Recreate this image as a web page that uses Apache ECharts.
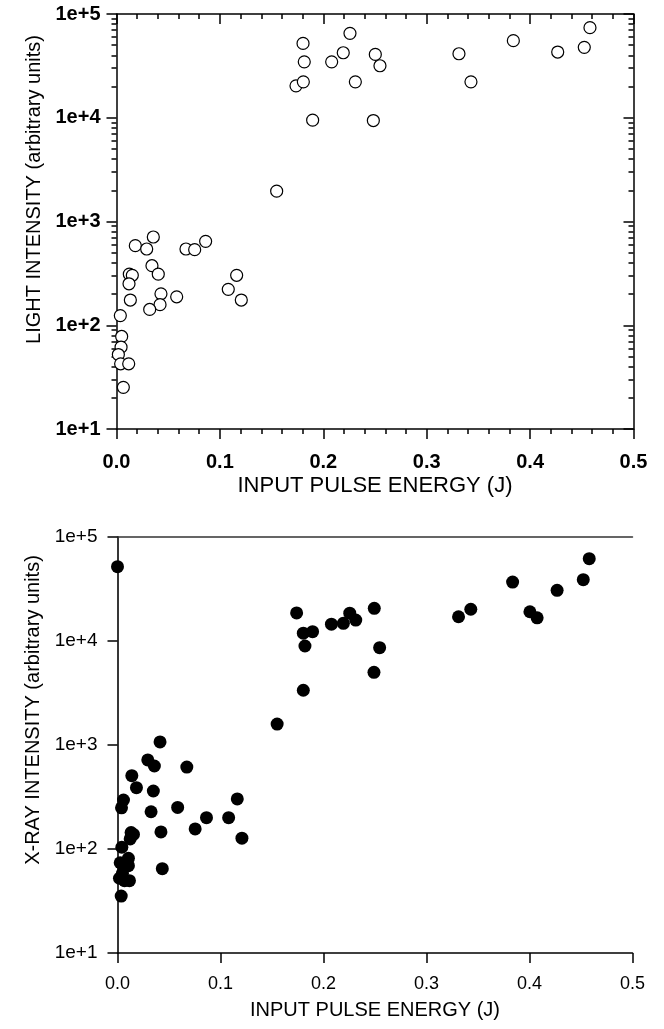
<!DOCTYPE html>
<html>
<head>
<meta charset="utf-8">
<script src="https://cdn.jsdelivr.net/npm/echarts@6/dist/echarts.min.js"></script>
<style>
html,body{margin:0;padding:0;background:#fff;}
#chart{width:664px;height:1029px;}
</style>
</head>
<body>
<div id="chart"></div>
<script>
// ---- Data ----
const lightX = [0.1804,0.1816,0.2258,0.2193,0.2081,0.1736,0.1807,0.2310,0.1897,0.2484,0.2503,0.2548,0.1549,
  0.3312,0.3428,0.3838,0.4267,0.4524,0.4579,
  0.0356,0.0182,0.0292,0.0672,0.0756,0.0862,0.0343,0.0404,0.0124,0.0153,0.0121,0.0430,0.0582,0.0134,0.0421,0.0321,
  0.1162,0.1081,0.1207,0.0037,0.0050,0.0044,0.0018,0.0040,0.0118,0.0066];
const lightY = [52100,34600,65100,42300,34600,20300,22200,22200,9480,9400,40800,31700,1960,
  41400,22200,55300,43000,47700,73800,
  709,585,543,543,535,644,375,311,311,303,251,201,188,175,158,142,
  303,222,175,124,78,61.5,52.2,42.5,42.5,25.2];

const xrayX = [0.0,0.0413,0.155,0.1804,0.1739,0.1804,0.1894,0.182,0.2077,0.2193,0.2255,0.2313,0.2493,0.2545,0.249,
  0.3311,0.343,0.3836,0.4004,0.4074,0.4268,0.4522,0.458,
  0.0294,0.0358,0.0673,0.0139,0.0184,0.0348,0.0058,0.0039,0.0326,0.0584,0.1163,0.0864,0.1079,0.0754,0.0422,0.1208,
  0.0132,0.0155,0.0123,0.0042,0.0026,0.0106,0.0106,0.0435,0.0019,0.0068,0.0116,0.0048,0.0036];
const xrayY = [51800,1070,1590,3360,18600,11900,12300,8950,14500,14800,18500,15900,20600,8620,5000,
  17100,20200,36900,19100,16700,30700,38900,61900,
  718,628,614,507,389,361,296,249,228,251,303,200,200,156,146,127,
  144,138,125,104,73.8,81.3,69.2,64.7,52.3,49.6,49.6,58.3,35.3];

const xTickLabels = ['0.0','0.1','0.2','0.3','0.4','0.5'];
const yMajor = [10,100,1000,10000,100000];
const yTickLabels = ['1e+1','1e+2','1e+3','1e+4','1e+5'];
const yMinor = [];
[10,100,1000,10000].forEach(d => { for (let k = 2; k <= 9; k++) yMinor.push(d * k); });

// ---- Chart ----
const FONT = 'Liberation Sans, Arial, sans-serif';
const chart = echarts.init(document.getElementById('chart'), null, {renderer: 'canvas'});
const line = (c, w) => ({show: true, lineStyle: {color: c || '#000', width: w || 1.5}});
const xLab = v => xTickLabels[Math.round(v * 10)];
const yLab = v => yTickLabels[yMajor.indexOf(v)] || '';

const option = {
  animation: false,
  backgroundColor: '#fff',
  grid: [
    {left: 116.5, top: 14, width: 517, height: 415},
    {left: 117.5, top: 537, width: 515, height: 416}
  ],
  xAxis: [
    {gridIndex: 0, type: 'value', position: 'bottom', min: 0, max: 0.5, interval: 0.1,
     axisLine: line(), splitLine: {show: false},
     axisTick: {show: true, length: 10, lineStyle: {color: '#000', width: 1.5}},
     minorTick: {show: true, splitNumber: 5, length: 5, lineStyle: {color: '#000', width: 1.5}},
     axisLabel: {formatter: xLab, margin: 23, fontFamily: FONT, fontSize: 20, fontWeight: 'bold', color: '#000'},
     name: 'INPUT PULSE ENERGY (J)', nameLocation: 'middle', nameGap: 46,
     nameTextStyle: {fontFamily: FONT, fontSize: 22, color: '#000'}},
    {gridIndex: 0, type: 'value', position: 'top', min: 0, max: 0.5, interval: 0.1,
     axisLine: line(), splitLine: {show: false},
     axisTick: {show: true, inside: true, length: 10, lineStyle: {color: '#000', width: 1.5}},
     minorTick: {show: true, splitNumber: 5, length: 5, lineStyle: {color: '#000', width: 1.5}},
     axisLabel: {show: false}},
    {gridIndex: 1, type: 'value', position: 'bottom', min: 0, max: 0.5, interval: 0.1,
     axisLine: line(), splitLine: {show: false},
     axisTick: {show: true, length: 10, lineStyle: {color: '#000', width: 1.5}},
     axisLabel: {formatter: xLab, margin: 22, fontFamily: FONT, fontSize: 18, color: '#000'},
     name: 'INPUT PULSE ENERGY (J)', nameLocation: 'middle', nameGap: 47,
     nameTextStyle: {fontFamily: FONT, fontSize: 20, color: '#000'}},
    {gridIndex: 1, type: 'value', position: 'top', min: 0, max: 0.5, interval: 0.1,
     axisLine: line('#333', 1.5), splitLine: {show: false}, axisTick: {show: false}, axisLabel: {show: false}}
  ],
  yAxis: [
    {gridIndex: 0, type: 'log', logBase: 10, position: 'left', min: 10, max: 100000,
     axisLine: line(), splitLine: {show: false},
     axisTick: {show: true, length: 10, customValues: yMajor, lineStyle: {color: '#000', width: 1.5}},
     axisLabel: {customValues: yMajor, formatter: yLab, margin: 16, fontFamily: FONT, fontSize: 20, fontWeight: 'bold', color: '#000'},
     name: 'LIGHT INTENSITY (arbitrary units)', nameLocation: 'middle', nameGap: 68,
     nameTextStyle: {fontFamily: FONT, fontSize: 20, color: '#000', padding: [0, 0, 0, 64]}},
    {gridIndex: 0, type: 'log', logBase: 10, position: 'left', min: 10, max: 100000,
     axisLine: {show: false}, splitLine: {show: false},
     axisTick: {show: true, length: 5, customValues: yMinor, lineStyle: {color: '#000', width: 1.5}},
     axisLabel: {show: false}},
    {gridIndex: 0, type: 'log', logBase: 10, position: 'right', min: 10, max: 100000,
     axisLine: line(), splitLine: {show: false},
     axisTick: {show: true, inside: true, length: 10, customValues: yMajor, lineStyle: {color: '#000', width: 1.5}},
     axisLabel: {show: false}},
    {gridIndex: 0, type: 'log', logBase: 10, position: 'right', min: 10, max: 100000,
     axisLine: {show: false}, splitLine: {show: false},
     axisTick: {show: true, inside: true, length: 5, customValues: yMinor, lineStyle: {color: '#000', width: 1.5}},
     axisLabel: {show: false}},
    {gridIndex: 1, type: 'log', logBase: 10, position: 'left', min: 10, max: 100000,
     axisLine: line(), splitLine: {show: false},
     axisTick: {show: true, length: 10, customValues: yMajor, lineStyle: {color: '#000', width: 1.5}},
     axisLabel: {customValues: yMajor, formatter: yLab, margin: 20, fontFamily: FONT, fontSize: 19, color: '#000'},
     name: 'X-RAY INTENSITY (arbitrary units)', nameLocation: 'middle', nameGap: 72,
     nameTextStyle: {fontFamily: FONT, fontSize: 20, color: '#000', padding: [0, 0, 0, 70]}},
    {gridIndex: 1, type: 'log', logBase: 10, position: 'right', min: 10, max: 100000,
     axisLine: line('#333', 1.5), splitLine: {show: false}, axisTick: {show: false}, axisLabel: {show: false}}
  ],
  series: [
    {type: 'scatter', xAxisIndex: 0, yAxisIndex: 0, symbol: 'circle', symbolSize: 12,
     itemStyle: {color: '#fff', borderColor: '#000', borderWidth: 1.2, opacity: 1},
     data: lightX.map((x, i) => [x, lightY[i]])},
    {type: 'scatter', xAxisIndex: 2, yAxisIndex: 4, symbol: 'circle', symbolSize: 13,
     itemStyle: {color: '#000', opacity: 1},
     data: xrayX.map((x, i) => [x, xrayY[i]])}
  ]
};
chart.setOption(option);
</script>
</body>
</html>
